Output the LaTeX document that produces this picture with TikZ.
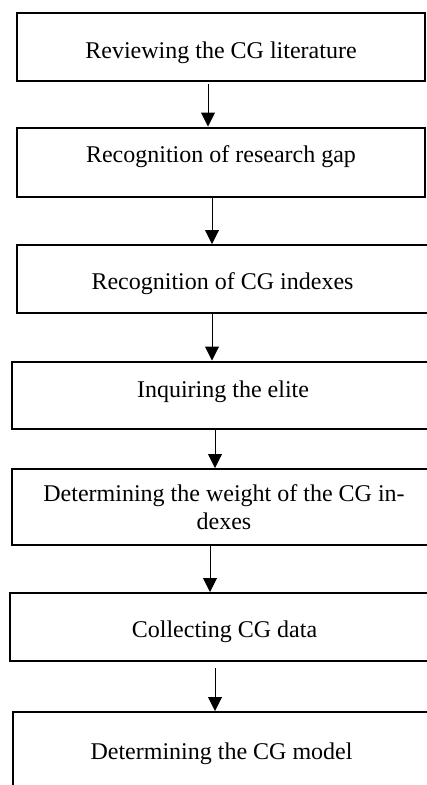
\documentclass[tikz,border=0pt]{standalone}
\usepackage{fontspec}
\setmainfont{Liberation Serif}
\usetikzlibrary{arrows.meta}

\begin{document}
\begin{tikzpicture}[x=1pt,y=-1pt,font=\fontsize{24}{28}\selectfont]
    \tikzstyle{stepbox}=[draw, rectangle, line width=2pt, inner sep=2pt, text=black]
    \tikzstyle{lift}=[text height=#1, text depth=5pt]
    \tikzstyle{flow}=[-{Triangle[width=14pt,length=14pt]}, line width=1pt]

    % frame of the picture, boxes run over its right edge
    \useasboundingbox (0,0) rectangle (427,785);
    \clip (0,0) rectangle (427,785);

    \node[stepbox,lift=27pt,minimum width=408pt,minimum height=68pt] (b1) at (221,47)    {Reviewing the CG literature};
    \node[stepbox,lift=5pt, minimum width=408pt,minimum height=69pt] (b2) at (221,162)   {Recognition of research gap};
    \node[stepbox,lift=25pt,minimum width=411pt,minimum height=68pt] (b3) at (222.5,279) {Recognition of CG indexes};
    \node[stepbox,lift=9pt, minimum width=422pt,minimum height=67pt] (b4) at (223,395)   {Inquiring the elite};
    \node[stepbox,align=center,minimum width=424pt,minimum height=76pt] (b5) at (224,507) {Determining the weight of the CG in-\\dexes};
    \node[stepbox,lift=25pt,minimum width=429pt,minimum height=68pt] (b6) at (224.5,627) {Collecting CG data};
    \node[stepbox,minimum width=417pt,minimum height=83pt]            (b7) at (221.5,753.5) {Determining the CG model};

    \draw[flow,shorten <=2pt] ([xshift=-13pt]b1.south)   -- ([xshift=-13pt]b1.south |- b2.north);
    \draw[flow]               ([xshift=-9pt]b2.south)    -- ([xshift=-9pt]b2.south |- b3.north);
    \draw[flow]               ([xshift=-10.5pt]b3.south) -- ([xshift=-10.5pt]b3.south |- b4.north);
    \draw[flow]               ([xshift=-8pt]b4.south)    -- ([xshift=-8pt]b4.south |- b5.north);
    \draw[flow]               ([xshift=-14pt]b5.south)   -- ([xshift=-14pt]b5.south |- b6.north);
    \draw[flow,shorten <=6pt] ([xshift=-9.5pt]b6.south)  -- ([xshift=-9.5pt]b6.south |- b7.north);
\end{tikzpicture}
\end{document}
